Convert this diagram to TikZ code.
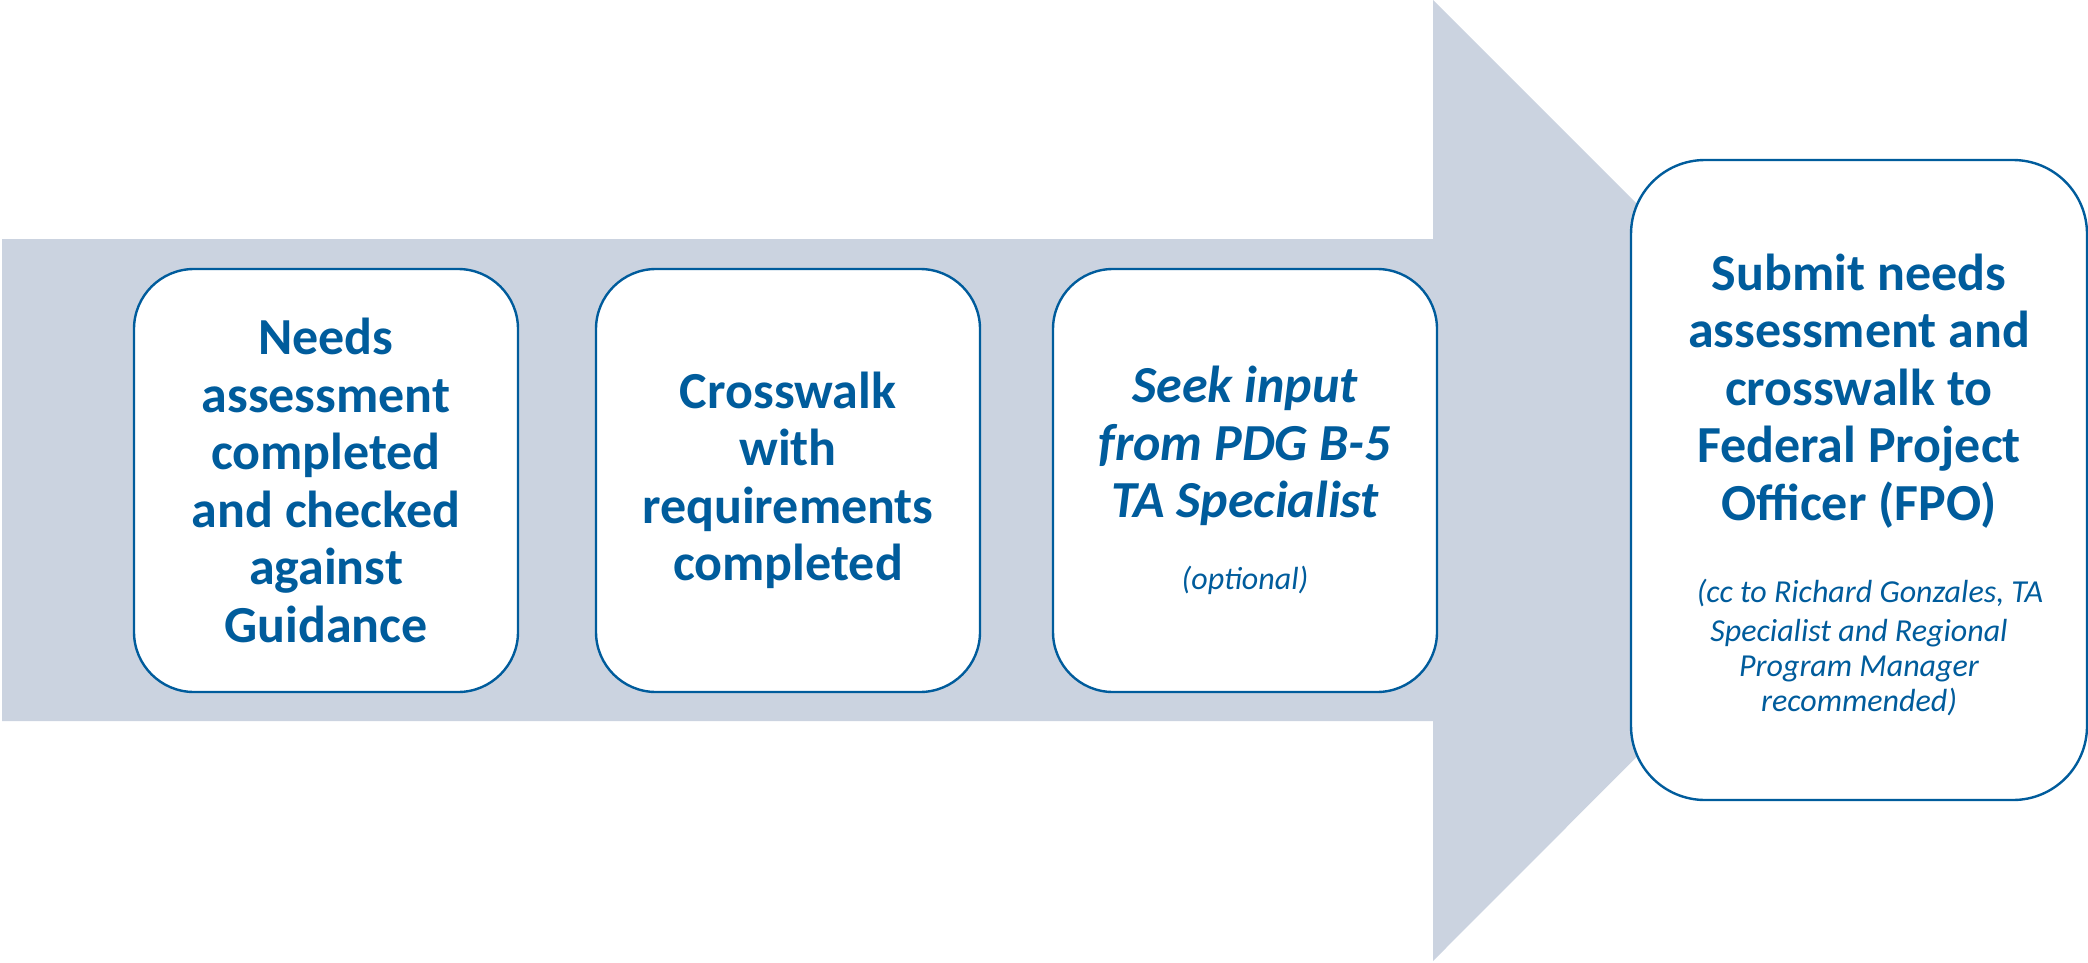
\documentclass[tikz,border=0pt]{standalone}
\usepackage{fontspec}
\setmainfont{Carlito}
\usetikzlibrary{positioning}
\definecolor{BLUE}{HTML}{005C9C}
\definecolor{ARROW}{HTML}{CBD3E0}
\newcommand{\notefont}{\fontsize{16}{17.5}\selectfont\mdseries\itshape}
\tikzset{
	steptext/.style = {align=center, text=BLUE, inner sep=0pt, font=\fontsize{26}{28.75}\selectfont\bfseries},
	stepbox/.style = {steptext, draw=BLUE, line width=1.2pt, fill=white, rounded corners=30pt,
		minimum width=192pt, minimum height=211.5pt},
	finalbox/.style = {stepbox, rounded corners=37pt, minimum width=228pt, minimum height=320pt}
}

\begin{document}
\begin{tikzpicture}[x=0.5pt, y=-0.5pt]
		\useasboundingbox (0,0) rectangle (2088,963);
		% big arrow
		\fill[ARROW] (2,239) -- (1433,239) -- (1433,0) -- (1913,480)
		      -- (1433,961) -- (1433,721) -- (2,721) -- cycle;
		% steps
		\node[stepbox] (needs) at (326,480.5) {Needs\\assessment\\completed\\and checked\\against\\Guidance};
		\node[stepbox] (crosswalk) at (788,480.5) {Crosswalk\\with\\requirements\\completed};
		\node[stepbox, font=\fontsize{26}{28.75}\selectfont\bfseries\itshape] (seek) at (1245,480.5)
		      {Seek input\\from PDG B-5\\TA Specialist\\[7.25pt]{\notefont(optional)}};
		% last step
		\node[finalbox] (submit) at (1859,480) {};
		\node[steptext] (submittext) at ([yshift=-4pt]submit.center) {Submit needs\\assessment and\\crosswalk to\\Federal Project\\Officer (FPO)\\[12.5pt]%
		      {\notefont\begin{tabular}[t]{@{}c@{}}\hspace*{11pt}(cc to Richard Gonzales, TA\\[2pt]
		      Specialist and Regional\\ Program Manager\\ recommended)\end{tabular}}};
	\end{tikzpicture}
\end{document}
